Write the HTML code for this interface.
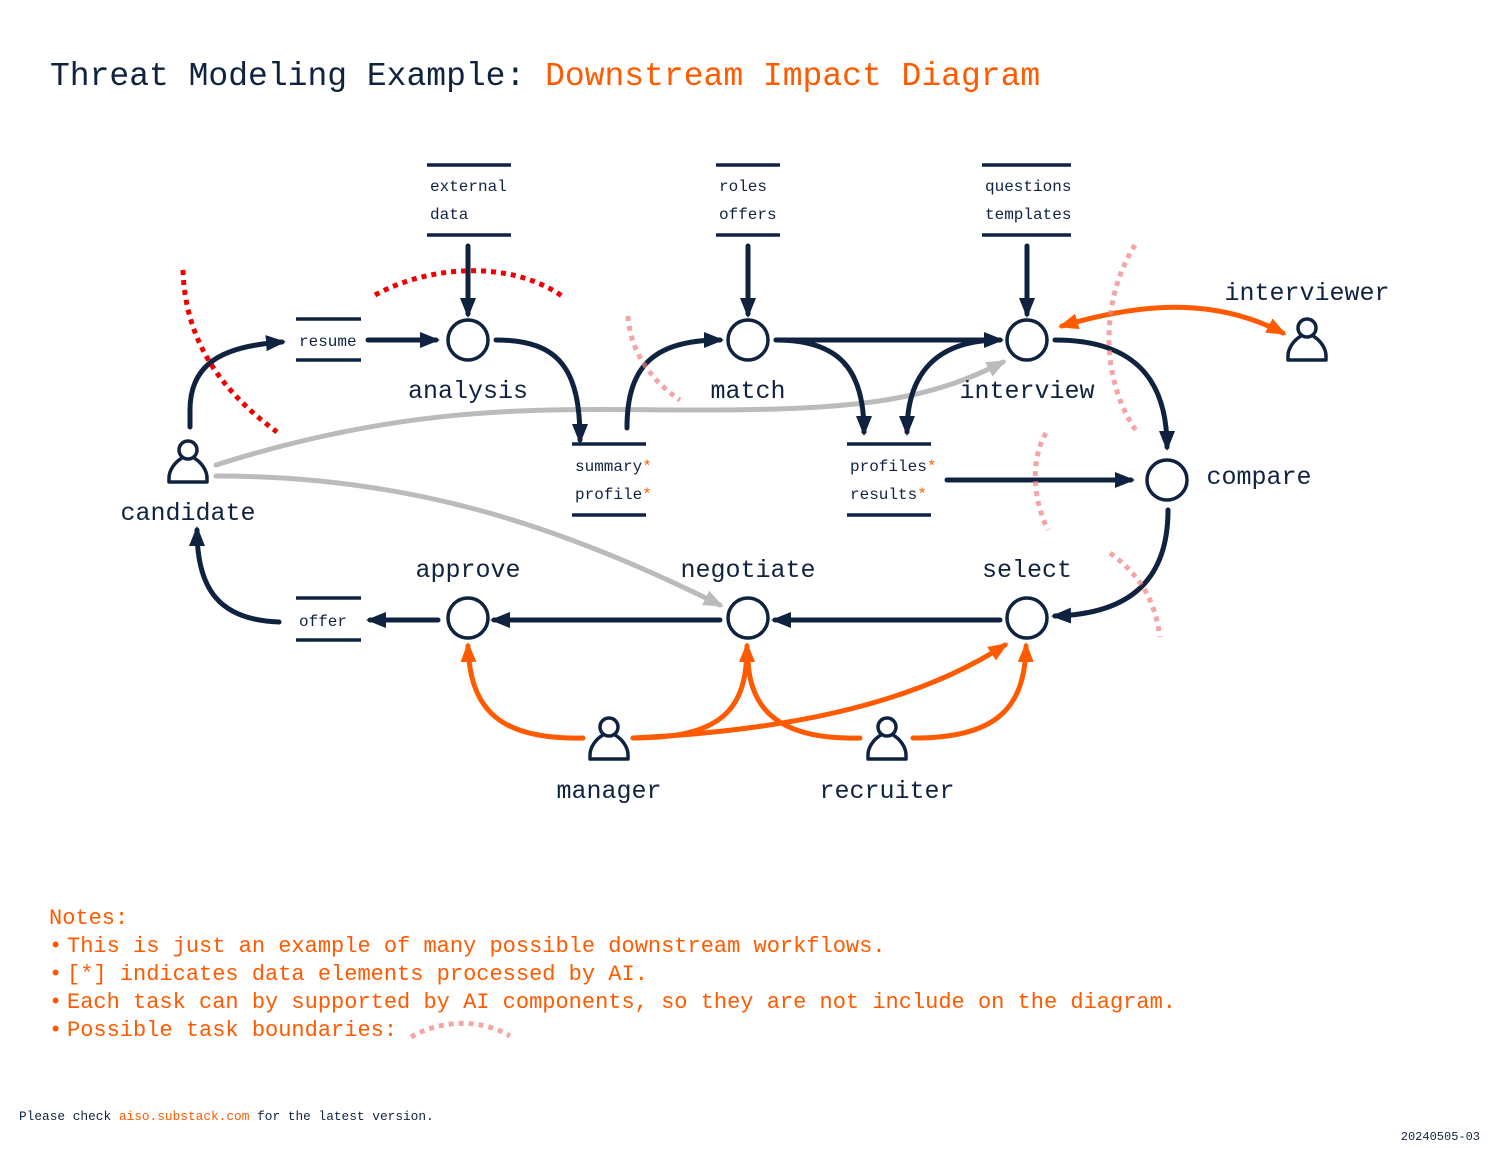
<!DOCTYPE html>
<html><head><meta charset="utf-8"><style>
body{margin:0;background:#fff;width:1500px;height:1150px;overflow:hidden}
svg{display:block}
text{font-family:"Liberation Mono",monospace}
</style></head><body>
<svg width="1500" height="1150" viewBox="0 0 1500 1150" xmlns="http://www.w3.org/2000/svg">
<defs>
<marker id="an" markerUnits="userSpaceOnUse" markerWidth="20" markerHeight="20" refX="16" refY="10" orient="auto"><path d="M0,2 L20,10 L0,18 Z" fill="#0f2340"/></marker>
<marker id="ao" markerUnits="userSpaceOnUse" markerWidth="20" markerHeight="20" refX="16" refY="10" orient="auto"><path d="M0,2 L20,10 L0,18 Z" fill="#ff5a00"/></marker>
<marker id="aos" markerUnits="userSpaceOnUse" markerWidth="20" markerHeight="20" refX="4" refY="10" orient="auto"><path d="M20,2 L0,10 L20,18 Z" fill="#ff5a00"/></marker>
<marker id="ag" markerUnits="userSpaceOnUse" markerWidth="20" markerHeight="20" refX="16" refY="10" orient="auto"><path d="M0,2 L20,10 L0,18 Z" fill="#bbbbbb"/></marker>
<g id="p"><circle cx="0" cy="0" r="9" fill="#fff" stroke="#0f2340" stroke-width="3.5"/><path d="M-6,8 C-13,12 -19,20 -19,28 V32 H19 V28 C19,20 13,12 6,8" fill="none" stroke="#0f2340" stroke-width="3.5" stroke-linejoin="round"/></g>
</defs>

<text x="50" y="85" font-size="33" fill="#0f2340">Threat Modeling Example: <tspan fill="#ff5a00">Downstream Impact Diagram</tspan></text>

<!-- gray lines -->
<g fill="none" stroke="#bbbbbb" stroke-width="5" stroke-linecap="round">
<path d="M216,465 C420,400 560,410 700,410 C860,410 930,400 1003,362" marker-end="url(#ag)"/>
<path d="M216,476 C400,476 550,520 720,605" marker-end="url(#ag)"/>
</g>

<!-- navy lines -->
<g fill="none" stroke="#0f2340" stroke-width="5" stroke-linecap="round">
<path d="M190,427 V410 C190,362 225,346 282,342" marker-end="url(#an)"/>
<path d="M368,340 H436" marker-end="url(#an)"/>
<path d="M468,246 V314" marker-end="url(#an)"/>
<path d="M496,340 C560,340 580,370 580,440" marker-end="url(#an)"/>
<path d="M627,428 C627,370 650,340 720,340" marker-end="url(#an)"/>
<path d="M748,246 V314" marker-end="url(#an)"/>
<path d="M776,340 H1000" marker-end="url(#an)"/>
<path d="M776,340 C840,340 864,370 864,432" marker-end="url(#an)"/>
<path d="M1000,340 C940,340 907,370 907,432" marker-end="url(#an)"/>
<path d="M1027,246 V314" marker-end="url(#an)"/>
<path d="M1055,340 C1130,340 1167,375 1167,447" marker-end="url(#an)"/>
<path d="M947,480 H1131" marker-end="url(#an)"/>
<path d="M1168,510 C1168,580 1130,614 1055,616" marker-end="url(#an)"/>
<path d="M1000,620 H775" marker-end="url(#an)"/>
<path d="M720,620 H494" marker-end="url(#an)"/>
<path d="M438,620 H370" marker-end="url(#an)"/>
<path d="M279,622 C220,620 197,590 197,530" marker-end="url(#an)"/>
</g>

<!-- orange lines -->
<g fill="none" stroke="#ff5a00" stroke-width="5" stroke-linecap="round">
<path d="M1062,326 C1150,300 1220,300 1283,333" marker-start="url(#aos)" marker-end="url(#ao)"/>
<path d="M583,738 C500,740 470,710 468,646" marker-end="url(#ao)"/>
<path d="M633,738 C722,738 747,710 747,646" marker-end="url(#ao)"/>
<path d="M633,738 C800,730 920,700 1005,645" marker-end="url(#ao)"/>
<path d="M860,738 C780,740 750,710 748,660"/>
<path d="M913,738 C992,738 1025,712 1026,646" marker-end="url(#ao)"/>
</g>

<!-- circles -->
<g fill="#fff" stroke="#0f2340" stroke-width="3.5">
<circle cx="468" cy="340" r="20"/><circle cx="748" cy="340" r="20"/><circle cx="1027" cy="340" r="20"/>
<circle cx="1167" cy="480" r="20"/><circle cx="1027" cy="618" r="20"/><circle cx="748" cy="618" r="20"/><circle cx="468" cy="618" r="20"/>
</g>

<!-- data stores -->
<g stroke="#0f2340" stroke-width="3.5">
<path d="M427,165 H511 M427,235 H511"/>
<path d="M716,165 H780 M716,235 H780"/>
<path d="M982,165 H1071 M982,235 H1071"/>
<path d="M296,319 H361 M296,360 H361"/>
<path d="M572,444 H646 M572,515 H646"/>
<path d="M847,444 H931 M847,515 H931"/>
<path d="M296,598 H361 M296,640 H361"/>
</g>
<g font-size="16" fill="#0f2340">
<text x="430" y="191">external</text><text x="430" y="219">data</text>
<text x="719" y="191">roles</text><text x="719" y="219">offers</text>
<text x="985" y="191">questions</text><text x="985" y="219">templates</text>
<text x="299" y="346">resume</text>
<text x="575" y="471">summary<tspan fill="#ff5a00">*</tspan></text><text x="575" y="499">profile<tspan fill="#ff5a00">*</tspan></text>
<text x="850" y="471">profiles<tspan fill="#ff5a00">*</tspan></text><text x="850" y="499">results<tspan fill="#ff5a00">*</tspan></text>
<text x="299" y="626">offer</text>
</g>

<!-- persons -->
<use href="#p" x="188" y="450"/>
<use href="#p" x="1307" y="328"/>
<use href="#p" x="609" y="727"/>
<use href="#p" x="887" y="727"/>

<g font-size="25" fill="#0f2340" text-anchor="middle">
<text x="468" y="398">analysis</text>
<text x="748" y="398">match</text>
<text x="1027" y="398">interview</text>
<text x="188" y="520">candidate</text>
<text x="1307" y="300">interviewer</text>
<text x="1259" y="484">compare</text>
<text x="1027" y="577">select</text>
<text x="748" y="577">negotiate</text>
<text x="468" y="577">approve</text>
<text x="609" y="798">manager</text>
<text x="887" y="798">recruiter</text>
</g>

<!-- boundaries -->
<g fill="none" stroke-width="5" stroke-dasharray="5,5">
<path d="M183,270 C185,340 220,390 277,432" stroke="#ee0000"/>
<path d="M375,295 C430,265 510,260 562,296" stroke="#ee0000"/>
<g stroke="#f08080" opacity="0.7">
<path d="M628,316 C630,350 650,380 680,400"/>
<path d="M1135,245 C1100,300 1100,380 1137,432"/>
<path d="M1046,433 C1030,460 1033,500 1048,530"/>
<path d="M1110,553 C1140,575 1155,600 1160,637"/>
<path d="M411,1037 C440,1020 480,1018 510,1036"/>
</g>
</g>

<g font-size="22" fill="#ff5a00">
<text x="49" y="924">Notes:</text>
<text x="49" y="952">•<tspan x="67">This is just an example of many possible downstream workflows.</tspan></text>
<text x="49" y="980">•<tspan x="67">[*] indicates data elements processed by AI.</tspan></text>
<text x="49" y="1008">•<tspan x="67">Each task can by supported by AI components, so they are not include on the diagram.</tspan></text>
<text x="49" y="1036">•<tspan x="67">Possible task boundaries:</tspan></text>
</g>
<text x="19" y="1120" font-size="12.8" fill="#0f2340">Please check <tspan fill="#ff5a00">aiso.substack.com</tspan> for the latest version.</text>
<text x="1480" y="1140" font-size="12" fill="#0f2340" text-anchor="end">20240505-03</text>
</svg>
</body></html>
